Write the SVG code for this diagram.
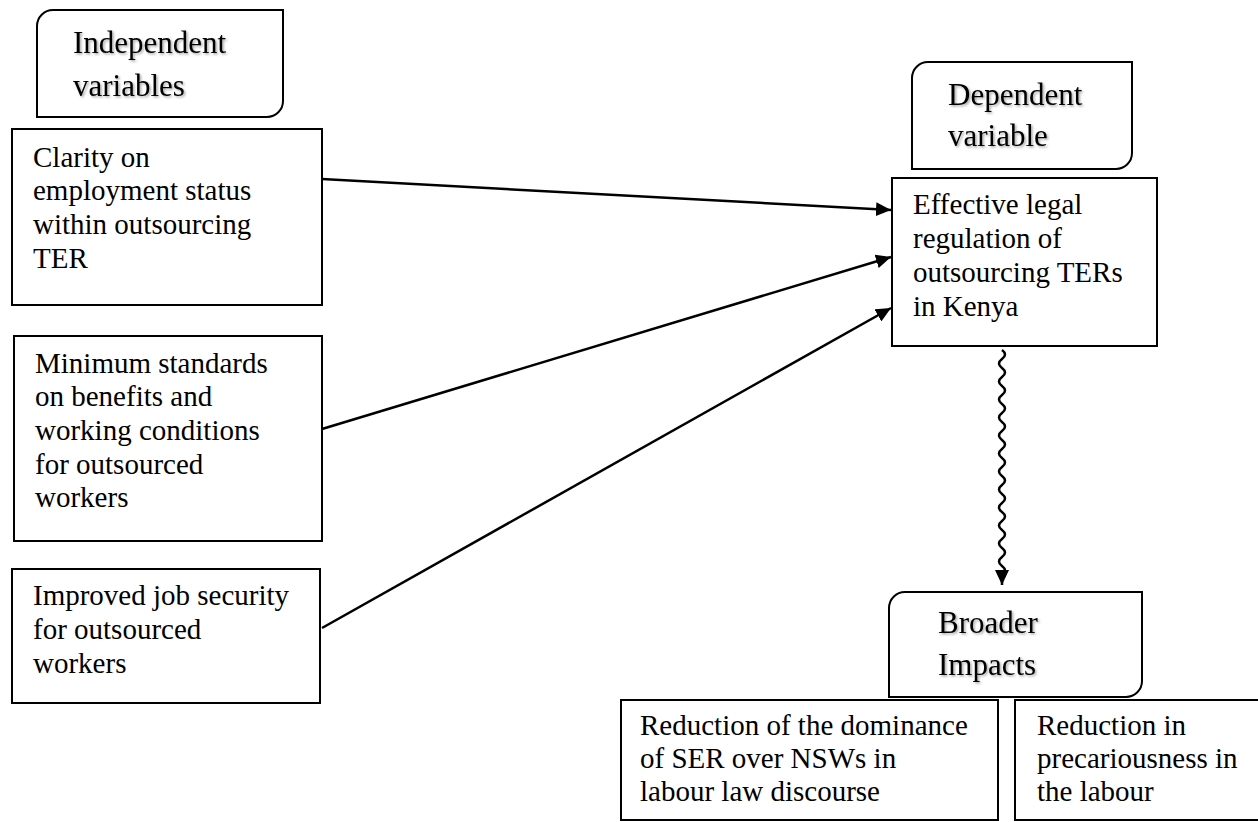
<svg xmlns="http://www.w3.org/2000/svg" width="1258" height="822" viewBox="0 0 1258 822">
<style>
.box{fill:#fff;stroke:#000;stroke-width:2}
.t{font-family:"Liberation Serif","Times New Roman",serif;font-size:29px;fill:#000}
.h{font-size:31px;filter:url(#sh)}
.conn{stroke:#000;stroke-width:2.5;fill:none}
</style>
<defs>
<filter id="sh" x="-10%" y="-30%" width="130%" height="160%">
<feDropShadow dx="1.5" dy="1.5" stdDeviation="1" flood-color="#000" flood-opacity="0.35"/>
</filter>
<marker id="ah" markerUnits="userSpaceOnUse" markerWidth="16" markerHeight="14" refX="15" refY="7" orient="auto">
<path d="M0,0 L15,7 L0,14 Z" fill="#000"/>
</marker>
</defs>
<rect width="1258" height="822" fill="#fff"/>
<g id="connectors">
<line class="conn" x1="322" y1="179" x2="891" y2="210" marker-end="url(#ah)"/>
<line class="conn" x1="322" y1="429" x2="891" y2="257" marker-end="url(#ah)"/>
<line class="conn" x1="322" y1="628" x2="891" y2="308" marker-end="url(#ah)"/>
<path class="conn" d="M1002,350 q6,4.5 0,9 t0,9 t0,9 t0,9 t0,9 t0,9 t0,9 t0,9 t0,9 t0,9 t0,9 t0,9 t0,9 t0,9 t0,9 t0,9 t0,9 t0,9 t0,9 t0,9 t0,9 t0,9 t0,9 t0,9 t0,9 v10" marker-end="url(#ah)"/>
</g>
<g id="independent-header">
<path class="box" d="M53,10 H283 V101 A16,16 0 0 1 267,117 H37 V26 A16,16 0 0 1 53,10 Z"/>
<text class="t h" x="73" y="53">Independent</text>
<text class="t h" x="73" y="96">variables</text>
</g>
<g id="clarity">
<rect class="box" x="12" y="129" width="310" height="176"/>
<text class="t" x="33" y="167">Clarity on</text>
<text class="t" x="33" y="200">employment status</text>
<text class="t" x="33" y="234">within outsourcing</text>
<text class="t" x="33" y="268">TER</text>
</g>
<g id="minimum">
<rect class="box" x="14" y="336" width="308" height="205"/>
<text class="t" x="35" y="373">Minimum standards</text>
<text class="t" x="35" y="406">on benefits and</text>
<text class="t" x="35" y="440">working conditions</text>
<text class="t" x="35" y="474">for outsourced</text>
<text class="t" x="35" y="507">workers</text>
</g>
<g id="improved">
<rect class="box" x="12" y="569" width="308" height="134"/>
<text class="t" x="33" y="605">Improved job security</text>
<text class="t" x="33" y="639">for outsourced</text>
<text class="t" x="33" y="673">workers</text>
</g>
<g id="dependent-header">
<path class="box" d="M928,62 H1132 V153 A16,16 0 0 1 1116,169 H912 V78 A16,16 0 0 1 928,62 Z"/>
<text class="t h" x="948" y="105">Dependent</text>
<text class="t h" x="948" y="146">variable</text>
</g>
<g id="effective">
<rect class="box" x="892" y="178" width="265" height="168"/>
<text class="t" x="913" y="214">Effective legal</text>
<text class="t" x="913" y="248">regulation of</text>
<text class="t" x="913" y="282">outsourcing TERs</text>
<text class="t" x="913" y="316">in Kenya</text>
</g>
<g id="broader-header">
<path class="box" d="M905,592 H1142 V681 A16,16 0 0 1 1126,697 H889 V608 A16,16 0 0 1 905,592 Z"/>
<text class="t h" x="938" y="633">Broader</text>
<text class="t h" x="938" y="675">Impacts</text>
</g>
<g id="reduction-dominance">
<rect class="box" x="621" y="700" width="377" height="120"/>
<text class="t" x="640" y="735">Reduction of the dominance</text>
<text class="t" x="640" y="768">of SER over NSWs in</text>
<text class="t" x="640" y="801">labour law discourse</text>
</g>
<g id="reduction-precariousness">
<rect class="box" x="1015" y="700" width="250" height="120"/>
<text class="t" x="1037" y="735">Reduction in</text>
<text class="t" x="1037" y="768">precariousness in</text>
<text class="t" x="1037" y="801">the labour</text>
</g>
</svg>
